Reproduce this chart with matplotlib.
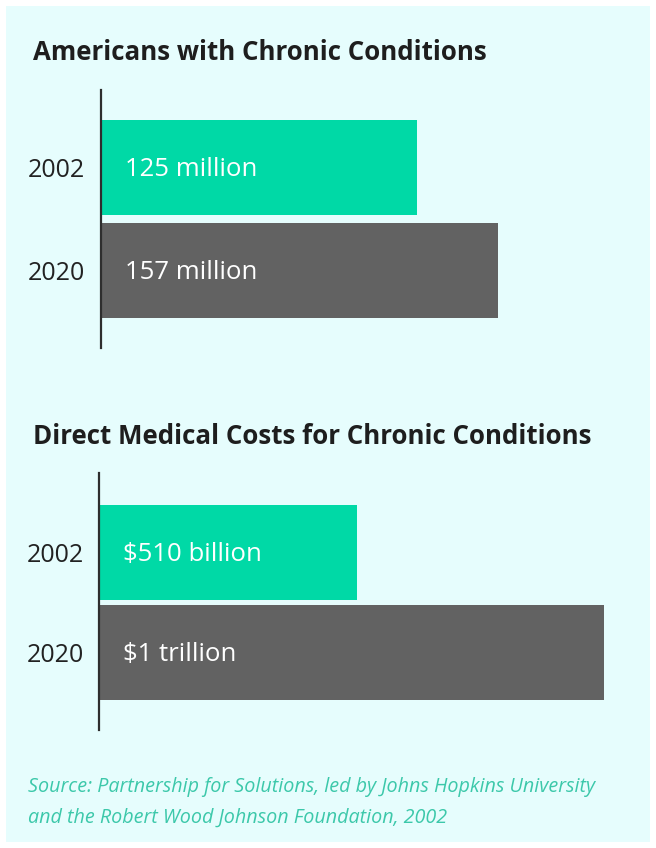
import matplotlib
matplotlib.use("Agg")
import matplotlib.pyplot as plt
from matplotlib.patches import Rectangle

# data
years = ["2002", "2020"]
people_millions = [125, 157]
people_labels = ["125 million", "157 million"]
costs_billions = [510, 1000]
cost_labels = ["$510 billion", "$1 trillion"]

title_top = "Americans with Chronic Conditions"
title_bottom = "Direct Medical Costs for Chronic Conditions"
source_lines = ["Source: Partnership for Solutions, led by Johns Hopkins University",
                "and the Robert Wood Johnson Foundation, 2002"]

bar_colors = ["#00d9a6", "#626262"]
panel_color = "#e6fdfd"
font = "Open Sans"

W, H = 656, 848
fig = plt.figure(figsize=(W / 100, H / 100), dpi=100)
fig.patch.set_facecolor("white")
fig.patches.append(Rectangle((6 / W, 6 / H), 644 / W, 836 / H,
                             transform=fig.transFigure, facecolor=panel_color,
                             edgecolor="none", zorder=-5))


def px_box(left, top, right, bottom):
    # pixel box (origin top-left) -> figure fraction rect
    return [left / W, 1 - bottom / H, (right - left) / W, (bottom - top) / H]


def bar_panel(rect, values, labels, xmax, ylim, height, pad):
    ax = fig.add_axes(rect)
    ax.set_facecolor("none")
    ypos = list(range(len(values)))
    ax.barh(ypos, values, height=height, color=bar_colors, linewidth=0)
    ax.set_xlim(0, xmax)
    ax.set_ylim(*ylim)
    ax.set_yticks(ypos)
    ax.set_yticklabels(years, fontsize=18, color="#222222", family=font)
    ax.tick_params(axis="y", length=0, pad=pad)
    ax.set_xticks([])
    for side in ["top", "right", "bottom"]:
        ax.spines[side].set_visible(False)
    ax.spines["left"].set_color("#2e2e2e")
    ax.spines["left"].set_linewidth(1.6)
    ax.spines["left"].set_zorder(3)
    for y, lab in zip(ypos, labels):
        ax.annotate(lab, xy=(0, y), xytext=(17.5, -1.5), textcoords="offset points",
                    va="center", ha="left", color="white", fontsize=18.5,
                    family=font)
    return ax


bar_panel(px_box(101, 90, 620, 348), people_millions, people_labels,
          xmax=519 / 2.53, ylim=(1.745, -0.745), height=0.92, pad=11.5)
bar_panel(px_box(99, 473, 620, 730), costs_billions, cost_labels,
          xmax=521 / 0.505, ylim=(1.775, -0.795), height=0.95, pad=10.5)

fig.text(33 / W, 1 - 52 / H, title_top, fontsize=18.6, fontweight="bold",
         color="#1e1e1e", va="center", ha="left", family=font)
fig.text(33 / W, 1 - 437 / H, title_bottom, fontsize=18.6, fontweight="bold",
         color="#1e1e1e", va="center", ha="left", family=font)

for i, line in enumerate(source_lines):
    fig.text(28 / W, 1 - (787 + 31 * i) / H, line, fontsize=14.2,
             style="italic", color="#3cc8aa", va="center", ha="left",
             family=font)

fig.savefig("out.png", dpi=100, facecolor=fig.get_facecolor())
